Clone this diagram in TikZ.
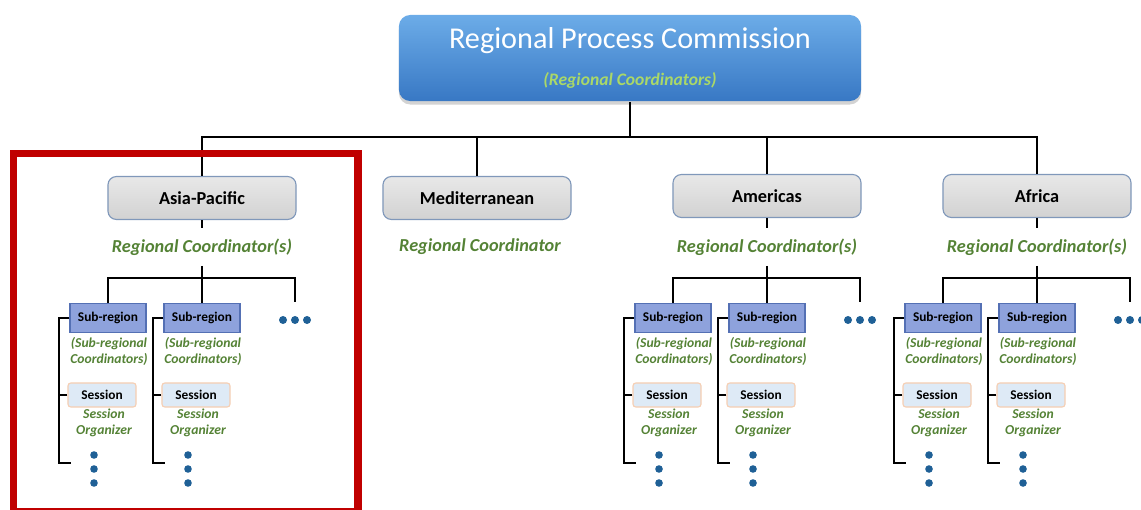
\documentclass[tikz,border=0pt]{standalone}
\usepackage{fontspec}
\setmainfont{Carlito}
\usetikzlibrary{positioning, shadows}

\definecolor{commtop}{RGB}{108,172,232}
\definecolor{commbot}{RGB}{56,120,196}
\definecolor{paleleaf}{RGB}{170,216,104}
\definecolor{leaf}{RGB}{84,130,53}
\definecolor{regtop}{RGB}{232,232,232}
\definecolor{regbot}{RGB}{210,210,210}
\definecolor{regline}{RGB}{128,152,186}
\definecolor{subfill}{RGB}{142,162,220}
\definecolor{subline}{RGB}{84,112,180}
\definecolor{sesfill}{RGB}{222,234,246}
\definecolor{sesline}{RGB}{246,206,178}
\definecolor{dotblue}{RGB}{31,96,150}
\definecolor{framered}{RGB}{192,0,0}

\begin{document}
\begin{tikzpicture}[x=0.025cm,y=-0.025cm,line width=1.4pt,
  comm node/.style={rounded corners=8pt,top color=commtop,bottom color=commbot,
    minimum width=11.55cm,minimum height=2.15cm,
    drop shadow={shadow xshift=0pt,shadow yshift=-2.5pt,opacity=0.35}},
  comm title/.style={anchor=base,text=white,font=\fontsize{21.5}{25}\selectfont},
  comm sub/.style={anchor=base,text=paleleaf,font=\fontsize{12.5}{14}\selectfont\bfseries\itshape},
  region node/.style={rounded corners=6pt,draw=regline,line width=0.8pt,
    top color=regtop,bottom color=regbot,minimum width=4.7cm,minimum height=1.075cm,
    font=\fontsize{13}{15}\selectfont\bfseries},
  coord text/.style={text=leaf,inner sep=0pt,minimum height=0.9cm,
    font=\fontsize{13}{15}\selectfont\bfseries\itshape},
  sub node/.style={draw=subline,line width=0.8pt,fill=subfill,inner sep=0pt,
    minimum width=1.9cm,minimum height=0.725cm,font=\fontsize{9.5}{11}\selectfont\bfseries},
  sub text/.style={text=leaf,align=center,inner sep=0pt,
    font=\fontsize{9.7}{11.4}\selectfont\bfseries\itshape},
  session node/.style={rounded corners=2pt,draw=sesline,line width=0.8pt,fill=sesfill,
    inner sep=0pt,minimum width=1.7cm,minimum height=0.6cm,
    font=\fontsize{9.5}{11}\selectfont\bfseries},
  more node/.style={inner sep=0pt,minimum width=0.8cm,minimum height=0.85cm}]

    \useasboundingbox (0,0) rectangle (1141,510);

    % commission on top
    \node[comm node] (rpc) at (630,58) {};
    \node[comm title] (rpc-title) at (630,49) {Regional Process Commission};
    \node[comm sub] (rpc-sub) at (630,86) {(Regional Coordinators)};

    % the four regions
    \node[region node] (asia) at (202,198) {Asia-Pacific};
    \node[region node] (med) at (477,198) {Mediterranean};
    \node[region node] (amer) at (767,196) {Americas};
    \node[region node] (afr) at (1037,196) {Africa};

    \coordinate (hub) at (630,137);
    \draw (rpc.south) -- (hub);
    \draw (asia.north) |- (hub) -| (afr.north);
    \draw (med.north) -- (med.north |- hub);
    \draw (amer.north) -- (amer.north |- hub);

    \node[coord text] (med-rc) at (480,247) {Regional Coordinator};

    % sub-regions and sessions
    \foreach \r/\x in {asia/202, amer/767, afr/1037} {
      \node[coord text] (\r-rc) at (\x,247) {Regional Coordinator(s)};
      \draw (\r.south) -- (\r-rc.north);
      \coordinate (\r-fork) at (\x,278);
      \draw (\r-rc.south) -- (\r-fork);

      \node[more node] (\r-more) at ({\x+93},320) {};
      \foreach \d in {-12,0,12}
        \fill[dotblue] ([xshift=\d*0.025cm]\r-more.center) circle (0.1cm);

      \foreach \i/\dx in {1/-94, 2/0} {
        \node[sub node] (\r-sub\i) at ({\x+\dx},318) {Sub-region};
        \node[sub text] (\r-subtxt\i) at ({\x+\dx+1},351) {(Sub-regional\\Coordinators)};
        \node[session node] (\r-ses\i) at ({\x+\dx-6},395) {Session};
        \node[sub text] (\r-sestxt\i) at ({\x+\dx-4},423) {Session\\Organizer};
        \coordinate (\r-foot\i) at ({\x+\dx-37},463);
        \draw (\r-sub\i.west) -- ++(-10,0) |- (\r-foot\i);
        \draw (\r-ses\i.west) -- ++(-8,0);
        \foreach \y in {455,469,483}
          \fill[dotblue] ({\x+\dx-14},\y) circle (0.095cm);
      }
      \draw (\r-sub1.north) |- (\r-fork) -| (\r-more.north);
      \draw (\r-fork) -- (\r-sub2.north);
    }

    % highlight frame
    \draw[framered,line width=5pt] (13.5,153.5) rectangle (358,512);
\end{tikzpicture}
\end{document}
